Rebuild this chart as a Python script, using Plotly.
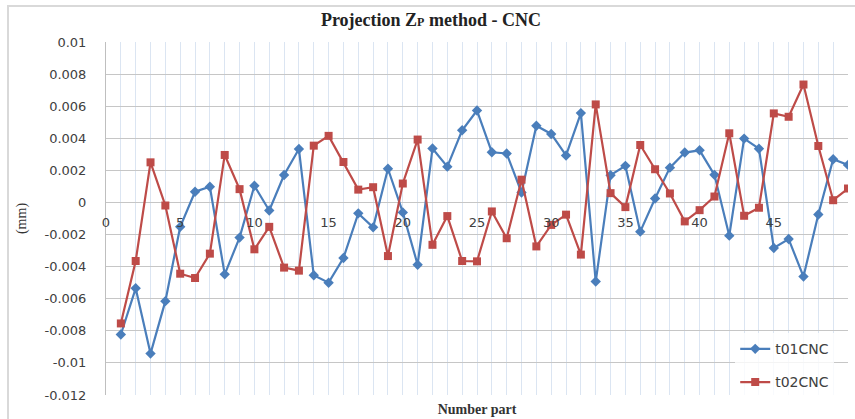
import plotly.graph_objects as go

# Part numbers and measured deviations (mm)
parts = list(range(1, 51))

t01_cnc = [
    -0.00823, -0.00535, -0.00942, -0.00615, -0.00152, 0.00067, 0.00098, -0.00448, -0.00219, 0.00104,
    -0.00050, 0.00171, 0.00333, -0.00454, -0.00500, -0.00346, -0.00068, -0.00155, 0.00210, -0.00062,
    -0.00388, 0.00336, 0.00223, 0.00450, 0.00573, 0.00313, 0.00305, 0.00062, 0.00478, 0.00427,
    0.00293, 0.00557, -0.00493, 0.00170, 0.00228, -0.00182, 0.00025, 0.00217, 0.00311, 0.00325,
    0.00172, -0.00207, 0.00398, 0.00335, -0.00284, -0.00228, -0.00462, -0.00075, 0.00269, 0.00234,
]

t02_cnc = [
    -0.00754, -0.00365, 0.00250, -0.00019, -0.00444, -0.00471, -0.00319, 0.00296, 0.00083, -0.00292,
    -0.00152, -0.00406, -0.00425, 0.00354, 0.00415, 0.00252, 0.00080, 0.00095, -0.00334, 0.00118,
    0.00392, -0.00264, -0.00085, -0.00365, -0.00367, -0.00056, -0.00223, 0.00142, -0.00274, -0.00140,
    -0.00076, -0.00325, 0.00611, 0.00058, -0.00029, 0.00358, 0.00207, 0.00056, -0.00118, -0.00048,
    0.00037, 0.00431, -0.00083, -0.00033, 0.00555, 0.00534, 0.00735, 0.00352, 0.00014, 0.00087,
]

y_tick_values = [0.01, 0.008, 0.006, 0.004, 0.002, 0, -0.002, -0.004, -0.006, -0.008, -0.01, -0.012]
y_tick_labels = ["0.01", "0.008", "0.006", "0.004", "0.002", "0", "-0.002", "-0.004", "-0.006",
                 "-0.008", "-0.01", "-0.012"]
x_tick_values = [0, 5, 10, 15, 20, 25, 30, 35, 40, 45, 50]

BLUE = "#4a7ebb"
RED = "#be4b48"
TICK_FONT = dict(family="DejaVu Sans", size=13, color="#404040")

fig = go.Figure()
fig.add_trace(go.Scatter(
    x=parts, y=t01_cnc, name="t01CNC", mode="lines+markers", legendgroup="a",
    line=dict(color=BLUE, width=2.2),
    marker=dict(symbol="diamond", size=8, color=BLUE),
))
fig.add_trace(go.Scatter(
    x=parts, y=t02_cnc, name="t02CNC", mode="lines+markers", legendgroup="b",
    line=dict(color=RED, width=2.2),
    marker=dict(symbol="square", size=8, color=RED),
))

y_min, y_max = -0.012, 0.01

fig.update_layout(
    width=855, height=419,
    margin=dict(l=106, r=7, t=42, b=24, autoexpand=False),
    paper_bgcolor="white", plot_bgcolor="white",
    title=dict(
        text="Projection Z<span style='font-size:12px'>P</span> method - CNC",
        font=dict(family="Liberation Serif", size=18, color="#222222", weight="bold"),
        xref="container", x=0.504, xanchor="center",
        yref="container", y=0.952, yanchor="middle",
    ),
    xaxis=dict(
        range=[0, 50], showticklabels=False, ticks="",
        showgrid=True, gridcolor="#dbe5f2", gridwidth=1, dtick=1, tick0=0,
        zeroline=False, showline=False,
        title=dict(text="Number part", standoff=9,
                   font=dict(family="Liberation Serif", size=14, color="#333333", weight="bold")),
    ),
    xaxis2=dict(
        range=[0, 50], overlaying="x", anchor="free",
        position=(0 - y_min) / (y_max - y_min),
        tickmode="array", tickvals=x_tick_values, ticks="",
        ticklabelstandoff=11, tickfont=TICK_FONT,
        showgrid=False, zeroline=False, showline=False,
    ),
    yaxis=dict(
        range=[y_min, y_max], tickmode="array",
        tickvals=y_tick_values, ticktext=y_tick_labels, tickfont=TICK_FONT,
        ticks="", ticklabelstandoff=16,
        showgrid=True, gridcolor="#c6c6c6", gridwidth=1,
        zeroline=True, zerolinecolor="#c6c6c6", zerolinewidth=1,
        showline=True, linecolor="#bfbfbf", linewidth=1,
        title=dict(text="(mm)", standoff=14,
                   font=dict(family="Liberation Serif", size=14, color="#333333")),
    ),
    legend=dict(
        x=0.848, xanchor="left", y=0.175, yanchor="top",
        bgcolor="rgba(255,255,255,0.8)", borderwidth=0,
        font=dict(family="DejaVu Sans", size=14, color="#404040"),
        tracegroupgap=12, traceorder="grouped",
    ),
    shapes=[dict(
        type="rect", xref="paper", yref="paper",
        x0=(8 - 106) / 742, x1=(870 - 106) / 742,
        y0=(395 - 440) / 353, y1=(395 - 6) / 353,
        line=dict(color="#d9d9d9", width=2), fillcolor="rgba(0,0,0,0)", layer="below",
    )],
)

# invisible trace so the overlaid axis at y = 0 is drawn with its labels
fig.add_trace(go.Scatter(x=[0, 50], y=[0, 0], xaxis="x2", mode="markers",
                         marker=dict(opacity=0), showlegend=False, hoverinfo="skip"))

fig.write_html("out.html")
